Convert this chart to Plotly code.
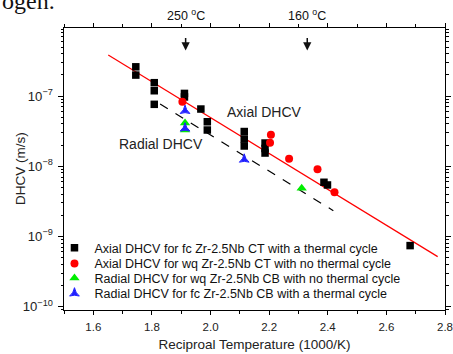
import plotly.graph_objects as go

# ---- data (x = 1000/T in 1000/K, y = DHCV in m/s) ----
axial_fc_x = [1.745, 1.745, 1.808, 1.808, 1.808, 1.911, 1.911, 1.967, 1.989, 1.989,
              2.115, 2.115, 2.115, 2.186, 2.186, 2.186, 2.387, 2.399, 2.681]
axial_fc_y = [2.61e-7, 1.99e-7, 1.55e-7, 1.19e-7, 7.62e-8, 1.09e-7, 9.7e-8, 6.53e-8, 4.3e-8, 3.28e-8,
              3.12e-8, 2.44e-8, 1.94e-8, 2.14e-8, 1.79e-8, 1.54e-8, 5.9e-9, 5.4e-9, 7.38e-10]

axial_wq_x = [1.904, 2.206, 2.203, 2.268, 2.365, 2.423]
axial_wq_y = [8.3e-8, 2.81e-8, 2.16e-8, 1.28e-8, 9.04e-9, 4.25e-9]

radial_wq_x = [1.913, 1.913, 2.311]
radial_wq_y = [4.12e-8, 3.28e-8, 4.84e-9]

radial_fc_x = [1.913, 1.913, 2.115]
radial_fc_y = [6.18e-8, 3.47e-8, 1.25e-8]

axial_fit_x = [1.651, 2.775]
axial_fit_y = [3.84e-7, 5.14e-10]

radial_fit_x = [1.828, 2.419]
radial_fit_y = [7.69e-8, 2.32e-9]

temp_labels = ["250 <sup>o</sup>C", "160 <sup>o</sup>C"]
temp_x = [1.915, 2.33]

legend_names = [
    "Axial DHCV for fc Zr-2.5Nb CT with a thermal cycle",
    "Axial DHCV for wq Zr-2.5Nb CT with no thermal cycle",
    "Radial DHCV for wq Zr-2.5Nb CB with no thermal cycle",
    "Radial DHCV for fc Zr-2.5Nb CB with a thermal cycle",
]

FONT = "Liberation Sans, Arial, sans-serif"

fig = go.Figure()

fig.add_trace(go.Scatter(x=axial_fit_x, y=axial_fit_y, mode="lines",
                         line=dict(color="#ff0000", width=1.2), showlegend=False, hoverinfo="skip"))
fig.add_trace(go.Scatter(x=radial_fit_x, y=radial_fit_y, mode="lines",
                         line=dict(color="#000000", width=1.2, dash="dash"), showlegend=False, hoverinfo="skip"))

fig.add_trace(go.Scatter(x=axial_fc_x, y=axial_fc_y, mode="markers", name=legend_names[0],
                         legend="legend",
                         marker=dict(symbol="square", size=7.5, color="#000000")))
fig.add_trace(go.Scatter(x=axial_wq_x, y=axial_wq_y, mode="markers", name=legend_names[1],
                         legend="legend2",
                         marker=dict(symbol="circle", size=8, color="#ff0000")))
fig.add_trace(go.Scatter(x=radial_wq_x, y=radial_wq_y, mode="markers", name=legend_names[2],
                         legend="legend3",
                         marker=dict(symbol="triangle-up", size=9, color="#00ee00")))
fig.add_trace(go.Scatter(x=radial_fc_x, y=radial_fc_y, mode="markers", name=legend_names[3],
                         legend="legend4",
                         marker=dict(symbol="star-triangle-up", size=7, color="#2020ff",
                                     line=dict(color="#2020ff", width=1))))

# text labels on the chart
fig.add_annotation(x=2.05, y=-7.23, xref="x", yref="y", text="Axial DHCV", showarrow=False,
                   xanchor="left", font=dict(family=FONT, size=14, color="#222"))
fig.add_annotation(x=1.68, y=-7.69, xref="x", yref="y", text="Radial DHCV", showarrow=False,
                   xanchor="left", font=dict(family=FONT, size=14, color="#222"))

# y axis title
fig.add_annotation(x=0, y=0.5, xref="paper", yref="paper", xshift=-44, text="DHCV (m/s)",
                   textangle=-90, showarrow=False, xanchor="center", yanchor="middle",
                   font=dict(family=FONT, size=13.5, color="#222"))

# temperature markers at top
for lab, tx in zip(temp_labels, temp_x):
    fig.add_annotation(x=tx, y=1.0, xref="x", yref="paper", yshift=3, text=lab, showarrow=False,
                       yanchor="bottom", font=dict(family=FONT, size=12.5, color="#111"))
    fig.add_annotation(x=tx, y=-6.35, xref="x", yref="y", text="", showarrow=True,
                       ax=0, ay=-14, arrowhead=2, arrowsize=1.1, arrowwidth=1.5, arrowcolor="#111")

# cropped document text at the top-left
fig.add_annotation(x=0, y=0, xref="paper", yref="paper", xanchor="left", yanchor="bottom",
                   xshift=-64, yshift=294, text="ogen.", showarrow=False,
                   font=dict(family="Liberation Serif, Times New Roman, serif", size=24, color="#111"))

leg_common = dict(x=-0.025, xanchor="left", yanchor="middle", bgcolor="rgba(0,0,0,0)",
                  font=dict(family=FONT, size=12.5, color="#111"), itemwidth=30)
row_y = [0.219, 0.164, 0.112, 0.058]

fig.update_layout(
    width=453, height=354,
    margin=dict(l=64, r=8, t=28, b=44, autoexpand=False),
    paper_bgcolor="white", plot_bgcolor="white",
    font=dict(family=FONT, size=11, color="#222"),
    legend=dict(y=row_y[0], **leg_common),
    legend2=dict(y=row_y[1], **leg_common),
    legend3=dict(y=row_y[2], **leg_common),
    legend4=dict(y=row_y[3], **leg_common),
    xaxis=dict(range=[1.5, 2.8], dtick=0.2, tick0=1.6, showgrid=False, zeroline=False,
               showline=True, linecolor="black", linewidth=1, mirror="allticks",
               ticks="outside", ticklen=4, tickcolor="black", tickformat=".1f",
               ticklabelstandoff=2, automargin=False,
               minor=dict(dtick=0.1, ticklen=3, tickcolor="black", ticks="outside"),
               title=dict(text="Reciproal Temperature (1000/K)", font=dict(family=FONT, size=13.5), standoff=7),
               tickfont=dict(family=FONT, size=11.5)),
    yaxis=dict(type="log", range=[-10.05, -6.03], dtick=1, showgrid=False, zeroline=False,
               showline=True, linecolor="black", linewidth=1, mirror="allticks",
               ticks="outside", ticklen=5, tickcolor="black", exponentformat="power",
               ticklabelstandoff=3, automargin=False,
               minor=dict(dtick="D1", ticklen=2.5, tickcolor="black", ticks="outside"),
               tickfont=dict(family=FONT, size=10.5)),
)

fig.write_html("out.html", config={"displayModeBar": False},
               post_script="document.body.style.margin='0';")
